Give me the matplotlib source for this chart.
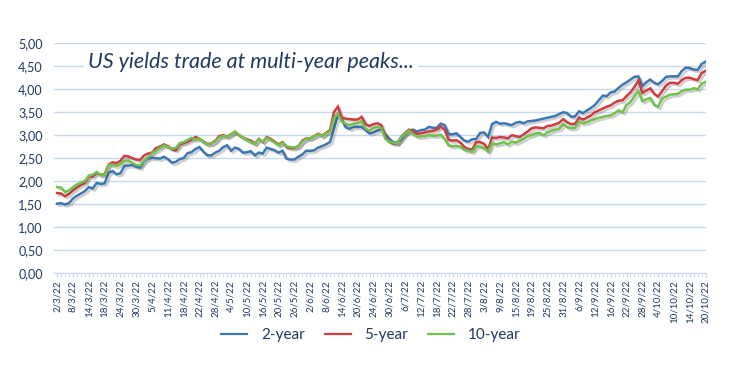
import matplotlib
matplotlib.use('Agg')
import matplotlib.pyplot as plt
import matplotlib.patheffects as pe
from matplotlib.lines import Line2D
import numpy as np

# tick labels (every 4th trading day, d/m/yy)
tick_labels = ['2/3/22', '8/3/22', '14/3/22', '18/3/22', '24/3/22', '30/3/22', '5/4/22',
               '11/4/22', '18/4/22', '22/4/22', '28/4/22', '4/5/22', '10/5/22', '16/5/22',
               '20/5/22', '26/5/22', '2/6/22', '8/6/22', '14/6/22', '20/6/22', '24/6/22',
               '30/6/22', '6/7/22', '12/7/22', '18/7/22', '22/7/22', '28/7/22', '3/8/22',
               '9/8/22', '15/8/22', '19/8/22', '25/8/22', '31/8/22', '6/9/22', '12/9/22',
               '16/9/22', '22/9/22', '28/9/22', '4/10/22', '10/10/22', '14/10/22', '20/10/22']
tick_step = 4

# yields in %, one value per trading day
y2 = [1.51, 1.52, 1.49, 1.52, 1.62, 1.68, 1.73, 1.78, 1.87, 1.84,
      1.96, 1.94, 1.95, 2.18, 2.22, 2.15, 2.17, 2.33, 2.34, 2.35,
      2.31, 2.29, 2.44, 2.49, 2.51, 2.50, 2.49, 2.53, 2.48, 2.40,
      2.42, 2.48, 2.50, 2.61, 2.63, 2.70, 2.74, 2.64, 2.56, 2.56,
      2.62, 2.66, 2.74, 2.78, 2.66, 2.73, 2.70, 2.62, 2.63, 2.65,
      2.56, 2.62, 2.60, 2.73, 2.70, 2.67, 2.62, 2.66, 2.49, 2.47,
      2.47, 2.53, 2.58, 2.66, 2.66, 2.67, 2.73, 2.76, 2.80, 2.85,
      3.14, 3.44, 3.33, 3.17, 3.14, 3.18, 3.18, 3.18, 3.11, 3.04,
      3.06, 3.10, 3.12, 3.02, 2.92, 2.85, 2.84, 2.90, 3.02, 3.10,
      3.12, 3.08, 3.11, 3.12, 3.18, 3.16, 3.16, 3.25, 3.22, 3.02,
      3.02, 3.04, 2.96, 2.88, 2.86, 2.91, 2.92, 3.05, 3.06, 2.96,
      3.24, 3.29, 3.25, 3.26, 3.24, 3.22, 3.27, 3.29, 3.26, 3.30,
      3.31, 3.32, 3.34, 3.36, 3.38, 3.40, 3.42, 3.46, 3.50, 3.48,
      3.40, 3.41, 3.52, 3.48, 3.54, 3.59, 3.66, 3.76, 3.86, 3.85,
      3.93, 3.95, 4.03, 4.10, 4.15, 4.21, 4.27, 4.28, 4.07, 4.15,
      4.21, 4.14, 4.11, 4.18, 4.27, 4.28, 4.28, 4.28, 4.40, 4.47,
      4.46, 4.43, 4.42, 4.55, 4.60]
y5 = [1.74, 1.73, 1.67, 1.72, 1.80, 1.86, 1.92, 1.96, 2.10, 2.10,
      2.18, 2.14, 2.15, 2.36, 2.41, 2.39, 2.44, 2.55, 2.54, 2.50,
      2.47, 2.46, 2.56, 2.60, 2.62, 2.72, 2.75, 2.80, 2.76, 2.70,
      2.67, 2.80, 2.83, 2.86, 2.90, 2.96, 2.92, 2.86, 2.81, 2.82,
      2.88, 2.98, 3.00, 2.97, 3.02, 3.07, 3.00, 2.95, 2.91, 2.88,
      2.82, 2.92, 2.85, 2.96, 2.92, 2.86, 2.80, 2.85, 2.74, 2.72,
      2.72, 2.76, 2.88, 2.93, 2.93, 2.98, 3.03, 2.99, 3.05, 3.11,
      3.50, 3.62, 3.38, 3.36, 3.35, 3.34, 3.34, 3.40, 3.24, 3.20,
      3.24, 3.26, 3.22, 2.95, 2.86, 2.82, 2.82, 2.96, 3.05, 3.12,
      3.08, 3.03, 3.04, 3.06, 3.08, 3.09, 3.12, 3.19, 3.12, 2.90,
      2.88, 2.89, 2.84, 2.74, 2.70, 2.69, 2.85, 2.85, 2.81, 2.69,
      2.95, 2.94, 2.96, 2.95, 2.93, 3.00, 2.98, 2.96, 3.02, 3.08,
      3.15, 3.17, 3.16, 3.15, 3.20, 3.21, 3.24, 3.27, 3.35, 3.28,
      3.24, 3.25, 3.38, 3.34, 3.38, 3.43, 3.50, 3.54, 3.58, 3.62,
      3.65, 3.71, 3.75, 3.76, 3.85, 3.93, 4.05, 4.19, 3.92, 3.97,
      4.02, 3.90, 3.84, 3.96, 4.08, 4.14, 4.14, 4.12, 4.20, 4.25,
      4.25, 4.22, 4.20, 4.35, 4.40]
y10 = [1.87, 1.86, 1.76, 1.80, 1.87, 1.93, 1.97, 2.00, 2.12, 2.14,
       2.20, 2.13, 2.14, 2.35, 2.36, 2.33, 2.37, 2.44, 2.45, 2.40,
       2.35, 2.34, 2.45, 2.52, 2.61, 2.66, 2.72, 2.78, 2.74, 2.71,
       2.72, 2.83, 2.85, 2.90, 2.94, 2.90, 2.93, 2.84, 2.80, 2.81,
       2.86, 2.96, 2.98, 2.97, 3.02, 3.08, 3.00, 2.95, 2.89, 2.85,
       2.81, 2.92, 2.86, 2.94, 2.90, 2.84, 2.78, 2.84, 2.76, 2.74,
       2.73, 2.76, 2.86, 2.92, 2.93, 2.97, 3.02, 2.98, 3.04, 3.08,
       3.38, 3.46, 3.29, 3.25, 3.22, 3.25, 3.26, 3.30, 3.14, 3.10,
       3.16, 3.18, 3.15, 2.92, 2.86, 2.84, 2.82, 2.95, 3.03, 3.10,
       3.02, 2.97, 2.97, 2.98, 3.00, 2.99, 2.99, 3.01, 2.92, 2.78,
       2.76, 2.77, 2.75, 2.68, 2.66, 2.64, 2.76, 2.75, 2.72, 2.64,
       2.83, 2.80, 2.82, 2.85, 2.80, 2.86, 2.84, 2.88, 2.92, 2.98,
       3.00, 3.04, 3.05, 3.00, 3.06, 3.10, 3.12, 3.14, 3.24, 3.18,
       3.15, 3.16, 3.30, 3.26, 3.28, 3.32, 3.35, 3.38, 3.40, 3.42,
       3.43, 3.48, 3.54, 3.50, 3.66, 3.72, 3.85, 3.96, 3.74, 3.78,
       3.81, 3.66, 3.62, 3.80, 3.84, 3.88, 3.89, 3.90, 3.96, 3.99,
       3.99, 4.02, 4.00, 4.12, 4.16]

series = [('2-year', y2, '#3a77b3'), ('5-year', y5, '#d03b3f'), ('10-year', y10, '#70c24c')]

navy = '#1f3864'
grid_blue = '#c6d9ee'
plt.rcParams['font.family'] = ['Lato', 'DejaVu Sans']

fig = plt.figure(figsize=(7.42, 3.77), dpi=100)
ax = fig.add_axes([54 / 742, 1 - 273 / 377, 652 / 742, 229.7 / 377])

x = np.arange(len(y2))
shadow = [pe.SimpleLineShadow(offset=(1.5, -1.5), shadow_color='#555555', alpha=0.28), pe.Normal()]
handles = []
for name, vals, col in series:
    ax.plot(x, vals, color=col, lw=1.8, path_effects=shadow, solid_joinstyle='miter')
    # legend keys have no shadow
    handles.append(Line2D([], [], color=col, lw=1.6, label=name))

ax.set_ylim(0, 5)
ax.set_xlim(-0.8, len(y2) - 0.9)
ax.set_yticks(np.arange(0, 5.01, 0.5))
ax.set_yticklabels([('%.2f' % v).replace('.', ',') for v in np.arange(0, 5.01, 0.5)])
ax.yaxis.grid(True, color=grid_blue, lw=1)
ax.set_axisbelow(True)

ax.set_xticks(x[::tick_step])
ax.set_xticklabels(tick_labels, rotation=90)
ax.set_xticks(x, minor=True)

for s in ['top', 'right', 'left']:
    ax.spines[s].set_visible(False)
ax.spines['bottom'].set_color(grid_blue)
ax.tick_params(axis='y', length=0, labelsize=9, labelcolor=navy, pad=8)
ax.tick_params(axis='x', which='both', length=3, color=grid_blue, labelsize=7, labelcolor=navy, pad=2)

ax.text(0.052, 0.918, 'US yields trade at multi-year peaks...', transform=ax.transAxes,
        fontsize=15.5, style='italic', color=navy, va='center', ha='left',
        bbox=dict(facecolor='white', edgecolor='none', pad=3))

fig.legend(handles=handles, loc='center', bbox_to_anchor=(0.5, 1 - 335 / 377), ncol=3,
           frameon=False, fontsize=11, labelcolor=navy, handlelength=1.7,
           handletextpad=0.9, columnspacing=1.3)

fig.savefig('out.png', dpi=100)
